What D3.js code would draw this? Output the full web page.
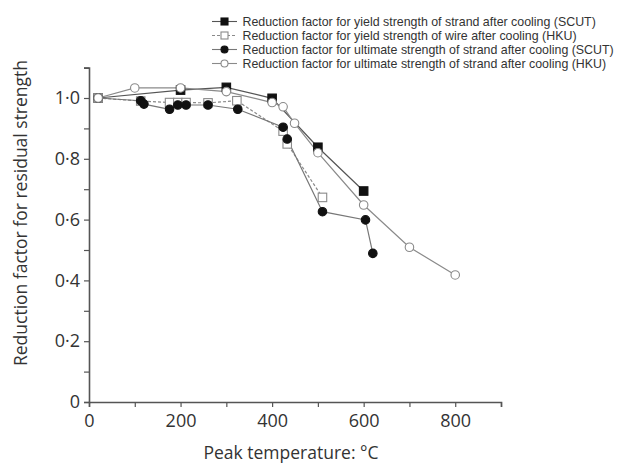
<!DOCTYPE html>
<html>
<head>
<meta charset="utf-8">
<script src="https://cdn.jsdelivr.net/npm/d3@7"></script>
<style>
  html, body { margin: 0; padding: 0; background: #fff; }
  svg { display: block; font-family: "Open Sans", "Noto Sans", sans-serif; }
</style>
</head>
<body>
<svg id="chart" width="631" height="464"></svg>
<script>
// Peak temperature (°C) and reduction factors for each series
const yieldStrandSCUT_T = [20, 200, 300, 400, 500, 600];
const yieldStrandSCUT_V = [1.0, 1.026, 1.035, 0.999, 0.838, 0.694];

const yieldWireHKU_T = [20, 113, 176, 194, 212, 260, 323, 424, 433, 510];
const yieldWireHKU_V = [1.0, 0.99, 0.985, 0.985, 0.985, 0.984, 0.991, 0.891, 0.849, 0.673];

const ultStrandSCUT_T = [20, 113, 120, 176, 194, 212, 260, 325, 424, 433, 510, 604, 620];
const ultStrandSCUT_V = [1.0, 0.991, 0.98, 0.963, 0.977, 0.977, 0.977, 0.963, 0.904, 0.865, 0.626, 0.599, 0.489];

const ultStrandHKU_T = [20, 100, 200, 300, 400, 424, 449, 500, 600, 700, 800];
const ultStrandHKU_V = [1.0, 1.033, 1.033, 1.021, 0.985, 0.971, 0.917, 0.820, 0.648, 0.509, 0.418];

const legendLabels = [
  "Reduction factor for yield strength of strand after cooling (SCUT)",
  "Reduction factor for yield strength of wire after cooling (HKU)",
  "Reduction factor for ultimate strength of strand after cooling (SCUT)",
  "Reduction factor for ultimate strength of strand after cooling (HKU)"
];

const xTickLabels = [0, 200, 400, 600, 800];
const yTickLabels = [0, 0.2, 0.4, 0.6, 0.8, 1.0];

const series = [
  { T: yieldStrandSCUT_T, V: yieldStrandSCUT_V, shape: "square", fill: "#111", stroke: "#111", line: "#555", dash: null, label: legendLabels[0] },
  { T: yieldWireHKU_T, V: yieldWireHKU_V, shape: "square", fill: "#fff", stroke: "#8a8a8a", line: "#8a8a8a", dash: "3,2", label: legendLabels[1] },
  { T: ultStrandSCUT_T, V: ultStrandSCUT_V, shape: "circle", fill: "#111", stroke: "#111", line: "#777", dash: null, label: legendLabels[2] },
  { T: ultStrandHKU_T, V: ultStrandHKU_V, shape: "circle", fill: "#fff", stroke: "#8a8a8a", line: "#8a8a8a", dash: null, label: legendLabels[3] }
];

const svg = d3.select("#chart");
const x = d3.scaleLinear().domain([0, 900]).range([89, 501]);
const y = d3.scaleLinear().domain([0, 1.1]).range([402, 67.6]);

const axisColor = "#555";
const fmt = d => d === 0 ? "0" : d3.format(".1f")(d).replace(".", "·");

// X axis
const gx = svg.append("g").attr("transform", `translate(0,${y(0)})`)
  .call(d3.axisBottom(x).tickValues(d3.range(0, 901, 100)).tickSize(5).tickFormat(d => xTickLabels.includes(d) ? d : ""));
gx.select(".domain").attr("stroke", axisColor).attr("stroke-width", 1.6);
gx.selectAll(".tick line").attr("stroke", axisColor).attr("stroke-width", 1.2);
gx.selectAll(".tick text").attr("fill", "#333").attr("font-size", 18).attr("dy", "0.95em")
  .attr("font-family", "'Open Sans', sans-serif");

// Y axis
const yTicks = d3.range(0, 12).map(i => +(i / 10).toFixed(1));
const gy = svg.append("g").attr("transform", `translate(${x(0)},0)`)
  .call(d3.axisLeft(y).tickValues(yTicks).tickSize(5)
    .tickFormat(d => yTickLabels.some(v => Math.abs(v - d) < 1e-9) ? fmt(d) : ""));
gy.select(".domain").attr("stroke", axisColor).attr("stroke-width", 1.6);
gy.selectAll(".tick line").attr("stroke", axisColor).attr("stroke-width", 1.2);
gy.selectAll(".tick text").attr("fill", "#333").attr("font-size", 18).attr("x", -9)
  .attr("font-family", "'Open Sans', sans-serif");

// Axis titles
svg.append("text").attr("x", 291).attr("y", 459).attr("text-anchor", "middle")
  .attr("font-size", 17.5).attr("fill", "#333").text("Peak temperature: °C");
svg.append("text").attr("transform", "translate(27,213) rotate(-90)").attr("text-anchor", "middle")
  .attr("font-size", 17.5).attr("fill", "#333").text("Reduction factor for residual strength");

// Lines and markers
const lineGen = d3.line().x(d => x(d[0])).y(d => y(d[1]));

function drawMarker(g, shape, cx, cy, size, fill, stroke) {
  if (shape === "square") {
    g.append("rect").attr("x", cx - size / 2).attr("y", cy - size / 2)
      .attr("width", size).attr("height", size)
      .attr("fill", fill).attr("stroke", stroke).attr("stroke-width", 1.1);
  } else {
    g.append("circle").attr("cx", cx).attr("cy", cy).attr("r", size / 2)
      .attr("fill", fill).attr("stroke", stroke).attr("stroke-width", 1.1);
  }
}

const plot = svg.append("g");
series.forEach(s => {
  const pts = s.T.map((t, i) => [t, s.V[i]]);
  plot.append("path").datum(pts).attr("d", lineGen)
    .attr("fill", "none").attr("stroke", s.line).attr("stroke-width", 1.2)
    .attr("stroke-dasharray", s.dash);
});
series.forEach(s => {
  const g = plot.append("g");
  s.T.forEach((t, i) => drawMarker(g, s.shape, x(t), y(s.V[i]), 8.5, s.fill, s.stroke));
});

// Legend: compact font so the four rows sit 14px apart without touching
const legend = svg.append("g");
const legendTexts = [];
series.forEach((s, i) => {
  const ly = 21.5 + i * 14;
  legend.append("line").attr("x1", 212).attr("x2", 237).attr("y1", ly).attr("y2", ly)
    .attr("stroke", s.line).attr("stroke-width", 1.1).attr("stroke-dasharray", s.dash);
  drawMarker(legend, s.shape, 224.5, ly, 7, s.fill, s.stroke);
  legendTexts.push(legend.append("text").attr("x", 242.5).attr("y", ly).attr("dy", "0.35em")
    .attr("font-family", "'Liberation Sans', Arial, sans-serif")
    .attr("font-size", 12).attr("fill", "#333").text(s.label));
});
// Fit the longest row so it ends at the right edge of the figure
const longest = legendTexts[2].node().getComputedTextLength();
const fitSize = Math.min(12.4, 12 * 386 / longest);
legendTexts.forEach(t => t.attr("font-size", fitSize));
</script>
</body>
</html>
